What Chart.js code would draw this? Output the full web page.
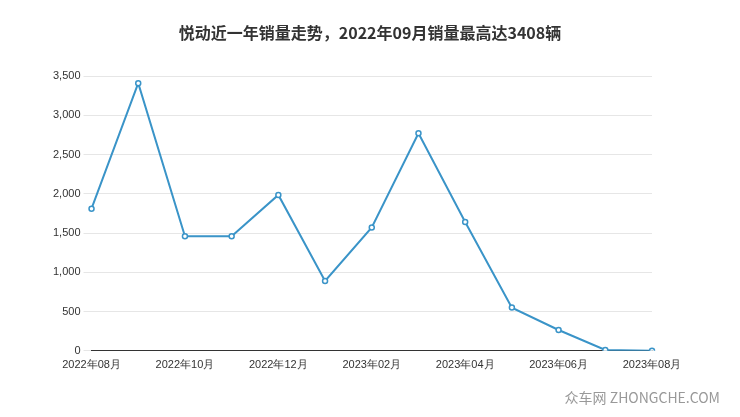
<!DOCTYPE html>
<html><head><meta charset="utf-8">
<script src="https://cdn.jsdelivr.net/npm/chart.js@4"></script>
<style>body{margin:0;background:#fff}#w{position:relative;width:740px;height:417px}
#t{position:absolute;left:0;top:20px;width:740px;text-align:center;font:bold 16px "Noto Sans CJK SC",sans-serif;color:#333}
#wm{position:absolute;right:20px;bottom:10px;font:14px "Noto Sans CJK SC",sans-serif;color:#999}</style>
</head><body><div id="w"><canvas id="c" width="740" height="417"></canvas><div id="t"></div><div id="wm">众车网 ZHONGCHE.COM</div></div>
<script>
const categories=["2022年08月","2022年09月","2022年10月","2022年11月","2022年12月","2023年01月","2023年02月","2023年03月","2023年04月","2023年05月","2023年06月","2023年07月","2023年08月"];
const sales=[1810,3408,1460,1460,1985,890,1570,2770,1640,550,265,10,0];
const title="悦动近一年销量走势，2022年09月销量最高达3408辆";
document.getElementById('t').textContent=title;
new Chart(document.getElementById('c'),{type:'line',
data:{labels:categories,datasets:[{data:sales,borderColor:'#3a94c8',borderWidth:2,pointRadius:2.5,pointBorderWidth:1.5,pointBackgroundColor:'#fff',pointBorderColor:'#3a94c8',tension:0}]},
options:{responsive:false,animation:false,layout:{padding:{left:50,right:88,top:76,bottom:45}},
plugins:{legend:{display:false},tooltip:{enabled:false}},
scales:{x:{offset:false,grid:{display:false},border:{color:'#333'},ticks:{padding:0,autoSkip:false,maxRotation:0,color:'#333',font:{size:11},callback:(v,i)=>i%2===0?categories[i]:''}},
y:{min:0,max:3500,grid:{color:'#e6e6e6'},border:{display:false},ticks:{stepSize:500,color:'#333',font:{size:11}}}}}});
</script></body></html>
